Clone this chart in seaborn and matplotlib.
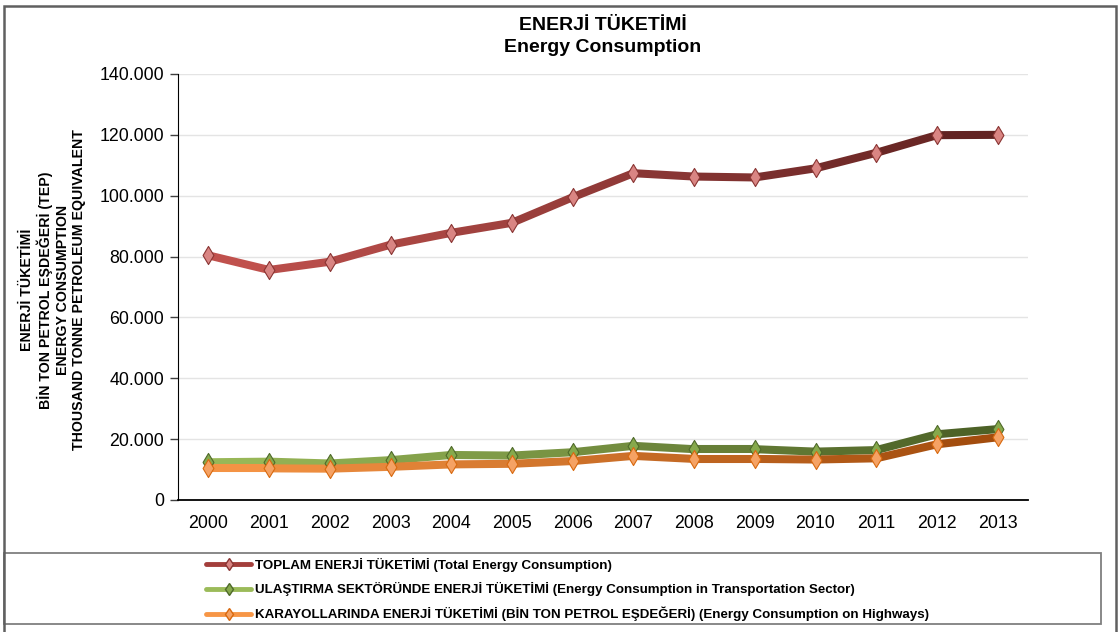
import numpy as np
import matplotlib
matplotlib.use("Agg")
import matplotlib.pyplot as plt
import matplotlib.colors as mcolors
from matplotlib.lines import Line2D
from matplotlib.patches import Rectangle
from matplotlib.ticker import FuncFormatter
import seaborn as sns

# data (thousand tonnes petroleum equivalent)
years = ["2000", "2001", "2002", "2003", "2004", "2005", "2006",
         "2007", "2008", "2009", "2010", "2011", "2012", "2013"]
total = [80.4, 75.6, 78.3, 83.9, 87.8, 91.1, 99.5,
         107.4, 106.3, 106.0, 109.0, 114.1, 119.9, 120.0]
transport = [12.4, 12.6, 12.0, 13.1, 14.8, 14.6, 15.7,
             17.8, 16.7, 16.7, 15.9, 16.4, 21.6, 23.3]
highways = [10.4, 10.4, 10.3, 10.9, 11.7, 11.9, 12.8,
            14.5, 13.5, 13.5, 13.3, 13.7, 18.3, 20.6]

labels = [
    "TOPLAM ENERJİ TÜKETİMİ (Total Energy Consumption)",
    "ULAŞTIRMA SEKTÖRÜNDE ENERJİ TÜKETİMİ (Energy Consumption in Transportation Sector)",
    "KARAYOLLARINDA ENERJİ TÜKETİMİ (BİN TON PETROL EŞDEĞERİ) (Energy Consumption on Highways)",
]

# (start colour, end colour, marker face, marker edge)
styles = [
    ("#c4534f", "#5e2120", "#d98583", "#8a3533"),
    ("#9bbb59", "#4a5e25", "#86a94c", "#4f6a2a"),
    ("#f79646", "#a04a0c", "#f5a264", "#d8690f"),
]

sns.set_style("white")
plt.rcParams["font.family"] = ["Liberation Sans", "DejaVu Sans"]
plt.rcParams["text.color"] = "black"
plt.rcParams["axes.labelcolor"] = "black"
plt.rcParams["xtick.color"] = "black"
plt.rcParams["ytick.color"] = "black"

fig = plt.figure(figsize=(11.19, 6.32), dpi=100)
ax = fig.add_axes([178 / 1119, 1 - 500 / 632, 850 / 1119, 426 / 632])

x = np.arange(len(years))
for vals, (c0, c1, mf, me) in zip([total, transport, highways], styles):
    v = np.array(vals) * 1000
    a = np.array(mcolors.to_rgb(c0))
    b = np.array(mcolors.to_rgb(c1))
    n = len(v) - 1
    # colour fades along the line, one segment at a time
    for i in range(n):
        col = a + (b - a) * (i + 0.5) / n
        sns.lineplot(x=x[i:i + 2], y=v[i:i + 2], color=col, lw=5.8,
                     solid_capstyle="round", ax=ax, zorder=3)
    sns.scatterplot(x=x, y=v, marker="d", s=85, color=mf, edgecolor=me,
                    linewidth=0.8, ax=ax, zorder=4)

ax.set_xlim(-0.5, 13.5)
ax.set_ylim(0, 140000)
ax.set_xticks(x)
ax.set_xticklabels(years)
ax.set_yticks(np.arange(0, 140001, 20000))
ax.yaxis.set_major_formatter(FuncFormatter(lambda v, p: f"{v:,.0f}".replace(",", ".")))
ax.tick_params(axis="y", which="major", left=True, length=6, width=1, color="#404040",
               labelsize=12.8, pad=4, labelcolor="black")
ax.tick_params(axis="x", bottom=False, labelsize=12.8, pad=7, labelcolor="black")
ax.grid(axis="y", color="#e4e4e4", lw=1)
ax.set_axisbelow(True)
for s in ["top", "right"]:
    ax.spines[s].set_visible(False)
ax.spines["left"].set_color("black")
ax.spines["bottom"].set_color("black")
ax.spines["bottom"].set_linewidth(1.3)

ax.set_ylabel("ENERJİ TÜKETİMİ\nBİN TON PETROL EŞDEĞERİ (TEP)\nENERGY CONSUMPTION\nTHOUSAND TONNE PETROLEUM EQUIVALENT",
              fontsize=10.2, fontweight="bold", linespacing=1.2, color="black")
ax.yaxis.label.set_va("center")
ax.yaxis.set_label_coords(-0.147, 0.493)

ax.set_title("ENERJİ TÜKETİMİ\nEnergy Consumption", fontsize=14,
             fontweight="bold", pad=15.5, linespacing=1.4, color="black")

# legend box and entries
fig.patches.append(Rectangle((4 / 1119, 1 - 624 / 632), 1097 / 1119, 71 / 632,
                             transform=fig.transFigure, fill=False,
                             edgecolor="#7f7f7f", lw=1.3))
handles = [Line2D([], [], color=s[0], lw=3.5, marker="d", markersize=6,
                  markerfacecolor=s[2], markeredgecolor=s[3]) for s in styles]
handles[0].set_color("#a33e3b")
fig.legend(handles, labels, loc="upper left",
           bbox_to_anchor=(206 / 1119, 1 - 558 / 632), frameon=False,
           prop={"size": 9.6, "weight": "bold"}, handlelength=3.4,
           handletextpad=0.3, labelspacing=0.78, borderpad=0, borderaxespad=0,
           labelcolor="black")

# outer chart border
fig.patches.append(Rectangle((4 / 1119, -0.01), 1112 / 1119, 1.0,
                             transform=fig.transFigure, fill=False,
                             edgecolor="#606060", lw=1.8))

fig.savefig("out.png", dpi=100)
